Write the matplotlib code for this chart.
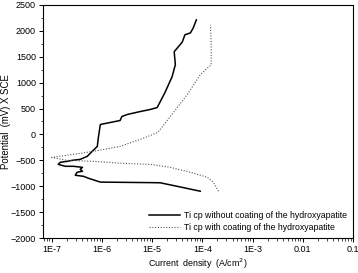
import numpy as np
import matplotlib
matplotlib.use('Agg')
import matplotlib.pyplot as plt
from matplotlib.ticker import LogLocator, MultipleLocator, FixedFormatter, FixedLocator

# Ti cp without coating (solid), from cathodic end to anodic end
i_bare = [9.1e-5, 2.9e-5, 1.45e-5, 9.0e-6, 9.3e-7, 5.4e-7, 4.3e-7, 2.95e-7, 3.2e-7,
          4.1e-7, 3.7e-7, 4.1e-7, 2.7e-7, 1.86e-7, 1.35e-7, 1.48e-7, 2.04e-7, 2.56e-7,
          3.7e-7, 5.1e-7, 6.4e-7, 8.1e-7, 8.4e-7, 8.8e-7, 9.3e-7, 2.3e-6, 2.5e-6,
          3.2e-6, 5.8e-6, 9.1e-6, 1.26e-5, 1.8e-5, 2.5e-5, 2.9e-5, 2.75e-5, 3.2e-5,
          3.6e-5, 4.0e-5, 4.5e-5, 5.8e-5, 6.6e-5, 7.6e-5]
e_bare = [-1096, -994, -933, -930, -920, -846, -808, -788, -730,
          -711, -673, -635, -615, -615, -577, -538, -519, -500,
          -481, -423, -327, -231, -96, 38, 192, 269, 346,
          385, 442, 481, 519, 808, 1115, 1346, 1596, 1673,
          1731, 1788, 1923, 1961, 2058, 2211]

# Ti cp with hydroxyapatite coating (dotted)
i_coat = [2.1e-4, 1.65e-4, 1.26e-4, 5.8e-5, 2.3e-5, 9.1e-6, 2.6e-6, 6.7e-7, 2.0e-7,
          1.0e-7, 2.7e-7, 6.7e-7, 2.3e-6, 5.8e-6, 1.3e-5, 2.3e-5, 5.0e-5, 9.1e-5,
          1.5e-4, 1.5e-4, 1.45e-4]
e_coat = [-1096, -923, -827, -731, -635, -577, -558, -519, -500,
          -442, -385, -327, -231, -96, 38, 346, 769, 1154,
          1346, 1731, 2115]

x_ticks = [1e-7, 1e-6, 1e-5, 1e-4, 1e-3, 1e-2, 1e-1]
x_labels = ['1E-7', '1E-6', '1E-5', '1E-4', '1E-3', '0.01', '0.1']

plt.rcParams['font.family'] = ['Liberation Sans', 'DejaVu Sans']

fig = plt.figure(figsize=(3.58, 2.73), dpi=100, facecolor='w')
ax = fig.add_axes([0.120, 0.128, 0.866, 0.854])

ax.plot(i_bare, e_bare, color='black', lw=1.1,
        label='Ti cp without coating of the hydroxyapatite')
ax.plot(i_coat, e_coat, color='#555555', lw=0.8, ls=(0, (1, 1.5)),
        label='Ti cp with coating of the hydroxyapatite')

ax.set_xscale('log')
ax.set_xlim(6.7e-8, 0.1)
ax.set_ylim(-2000, 2500)
ax.xaxis.set_major_locator(FixedLocator(x_ticks))
ax.xaxis.set_major_formatter(FixedFormatter(x_labels))
ax.xaxis.set_minor_locator(LogLocator(base=10, subs=np.arange(2, 10)))
ax.xaxis.set_minor_formatter(FixedFormatter([]))
ax.yaxis.set_major_locator(MultipleLocator(500))
ax.yaxis.set_minor_locator(MultipleLocator(250))

ax.tick_params(which='major', direction='out', length=3, width=0.7, labelsize=6.5, pad=2)
ax.tick_params(which='minor', direction='out', length=1.8, width=0.5)
for s in ax.spines.values():
    s.set_linewidth(0.8)

ax.set_xlabel('Current  density  (A/cm$^2$)', fontsize=6.4, labelpad=2)
ax.set_ylabel('Potential  (mV) X SCE', fontsize=6.9)
ax.yaxis.set_label_coords(-0.102, 0.5)

leg = ax.legend(loc='lower right', fontsize=6.3, frameon=False, handlelength=3.6,
                handletextpad=0.4, labelspacing=0.3, borderaxespad=0.3)

plt.savefig('out.png', dpi=100)
plt.close(fig)
